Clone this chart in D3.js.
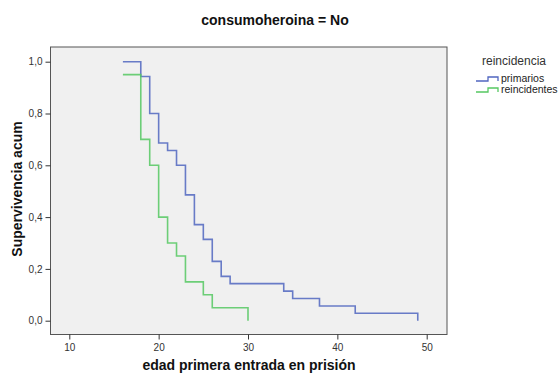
<!DOCTYPE html>
<html>
<head>
<meta charset="utf-8">
<script src="https://cdn.jsdelivr.net/npm/d3@7"></script>
<style>
  body { margin: 0; background: #fff; }
  svg { font-family: "Liberation Sans", Arial, sans-serif; }
</style>
</head>
<body>
<div class="chart-container"></div>
<script>
// survival steps
const primariosEdad = [16, 18, 19, 20, 21, 22, 23, 24, 25, 26, 27, 28, 34, 35, 38, 42, 49];
const primariosSurv = [1.0, 0.943, 0.8, 0.686, 0.657, 0.6, 0.486, 0.371, 0.314, 0.229, 0.171, 0.143, 0.114, 0.086, 0.057, 0.029, 0.0];
const reincEdad = [16, 18, 19, 20, 21, 22, 23, 25, 26, 30];
const reincSurv = [0.95, 0.70, 0.60, 0.40, 0.30, 0.25, 0.15, 0.10, 0.05, 0.0];
const xTicks = [10, 20, 30, 40, 50];
const yTicks = [0, 0.2, 0.4, 0.6, 0.8, 1.0];
const seriesNames = ["primarios", "reincidentes"];
const seriesColors = ["#5066c0", "#55c862"];

const w = 559, h = 374;
const frame = {left: 50, top: 46.5, right: 446.5, bottom: 334};

const svg = d3.select('.chart-container').append('svg')
  .attr('width', w).attr('height', h);

const x = d3.scaleLinear().domain([10, 50]).range([69.3, 426.7]);
const y = d3.scaleLinear().domain([0, 1]).range([320.7, 61.7]);

/* plot background + frame */
svg.append('rect')
  .attr('x', frame.left + 0.5).attr('y', frame.top + 0.5)
  .attr('width', frame.right - frame.left).attr('height', frame.bottom - frame.top)
  .style('fill', '#f0f0f0')
  .style('stroke', '#555')
  .style('stroke-width', 1);

/* axes */
const xAxis = svg.append('g')
  .attr('transform', 'translate(0,' + (frame.bottom + 0.5) + ')')
  .call(d3.axisBottom(x).tickValues(xTicks).tickSize(5).tickPadding(4).tickSizeOuter(0));
const yAxis = svg.append('g')
  .attr('transform', 'translate(' + (frame.left + 0.5) + ',0)')
  .call(d3.axisLeft(y).tickValues(yTicks).tickSize(5).tickPadding(3).tickSizeOuter(0)
    .tickFormat(d => d3.format('.1f')(d).replace('.', ',')));

[xAxis, yAxis].forEach(a => {
  a.select('.domain').remove();
  a.selectAll('line').style('stroke', '#333');
  a.selectAll('text').style('font-size', '10px').style('fill', '#333')
    .style('font-family', '"Liberation Sans", Arial, sans-serif');
});

/* step curves */
const line = d3.line()
  .x(d => x(d[0])).y(d => y(d[1]))
  .curve(d3.curveStepAfter);

const series = [
  d3.zip(primariosEdad, primariosSurv),
  d3.zip(reincEdad, reincSurv)
];

svg.append('g').selectAll('path')
  .data(series)
  .enter()
  .append('path')
  .attr('d', line)
  .style('fill', 'none')
  .style('stroke', (d, i) => seriesColors[i])
  .style('stroke-width', 1.6)
  .style('stroke-opacity', 0.85);

/* titles */
svg.append('text')
  .attr('x', 275).attr('y', 25)
  .attr('text-anchor', 'middle')
  .style('font-size', '14px').style('font-weight', 'bold').style('fill', '#111')
  .text('consumoheroina = No');

svg.append('text')
  .attr('x', 249).attr('y', 370)
  .attr('text-anchor', 'middle')
  .style('font-size', '14px').style('font-weight', 'bold').style('fill', '#111')
  .text('edad primera entrada en prisión');

svg.append('text')
  .attr('transform', 'translate(22,189) rotate(-90)')
  .attr('text-anchor', 'middle')
  .style('font-size', '14px').style('font-weight', 'bold').style('fill', '#111')
  .text('Supervivencia acum');

/* legend */
const legend = svg.append('g').attr('transform', 'translate(480,0)');
legend.append('text')
  .attr('x', 2).attr('y', 65)
  .style('font-size', '12px').style('fill', '#333')
  .text('reincidencia');

seriesNames.forEach((name, i) => {
  const cy = 81 + i * 11;
  legend.append('path')
    .attr('d', 'M-4,' + cy + 'H8V' + (cy - 4) + 'H18V' + cy)
    .style('fill', 'none')
    .style('stroke', seriesColors[i])
    .style('stroke-width', 1.3);
  legend.append('text')
    .attr('x', 21).attr('y', cy + 1)
    .style('font-size', '10.5px').style('fill', '#222')
    .text(name);
});
</script>
</body>
</html>
